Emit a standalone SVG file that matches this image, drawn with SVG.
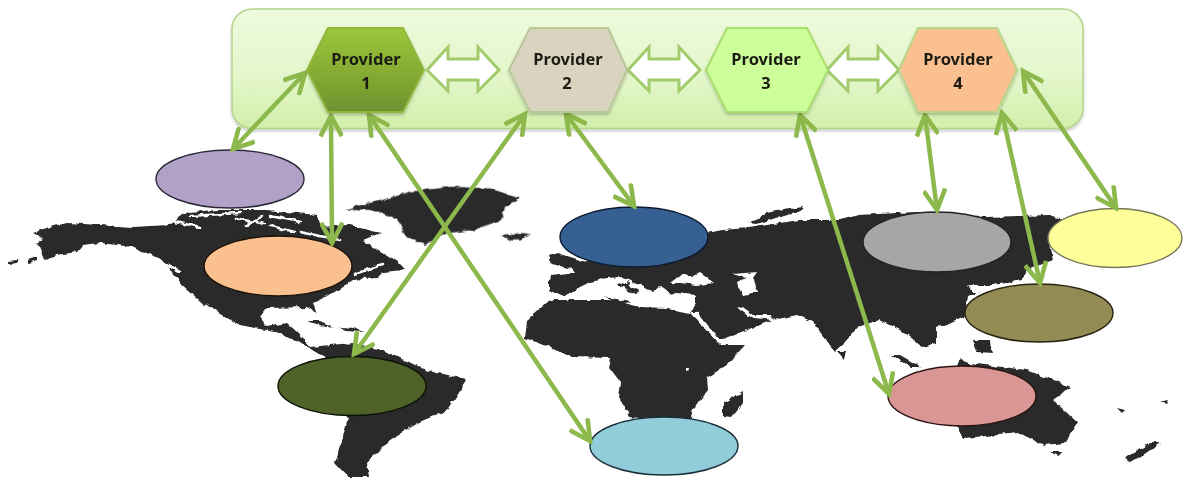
<svg xmlns="http://www.w3.org/2000/svg" xmlns:xlink="http://www.w3.org/1999/xlink" width="1183" height="481" viewBox="0 0 1183 481">
<style>
.land{fill:#2b292a}
.gap{fill:#fff}
.gapline{fill:none;stroke:#fff;stroke-width:2.6;stroke-linecap:round}
.oval{stroke-width:1.4}
.link{fill:none;stroke:#8cb84c;stroke-width:4.500;marker-start:url(#vee);marker-end:url(#vee)}
.peer{fill:#fff;stroke:#a2cb6b;stroke-width:3;stroke-linejoin:miter}
.hex{stroke-width:2;stroke-linejoin:round}
.lbl{font-family:"Noto Sans","Open Sans",sans-serif;font-weight:700;font-size:16.500px;fill:#1c1c14;text-anchor:middle}
</style>
<defs>
<marker id="vee" viewBox="-17 -9 20 18" refX="0" refY="0" markerUnits="userSpaceOnUse" markerWidth="27" markerHeight="24.300" orient="auto-start-reverse">
<path d="M-15 -8 L0 0 L-15 8" fill="none" stroke="#8cb84c" stroke-width="3.400"/>
</marker>
<linearGradient id="panelFill" x1="0" y1="0" x2="0" y2="1">
<stop offset="0" stop-color="#eefadd"/><stop offset=".55" stop-color="#e4f7cc"/><stop offset="1" stop-color="#d3eeaa"/>
</linearGradient>
<linearGradient id="p1Fill" x1="0" y1="0" x2="0" y2="1">
<stop offset="0" stop-color="#9cc63c"/><stop offset=".7" stop-color="#7da32f"/><stop offset="1" stop-color="#6d9132"/>
</linearGradient>
<filter id="rough" filterUnits="userSpaceOnUse" x="0" y="160" width="1183" height="321">
<feTurbulence type="fractalNoise" baseFrequency=".13" numOctaves="2" seed="4" result="n"/>
<feDisplacementMap in="SourceGraphic" in2="n" scale="5" xChannelSelector="R" yChannelSelector="G"/>
<feGaussianBlur stdDeviation=".55"/>
</filter>
<filter id="shade" x="-10%" y="-20%" width="120%" height="140%"><feDropShadow dx="0" dy="2" stdDeviation="1.5" flood-color="#000" flood-opacity=".22"/></filter>
<polygon id="peerArrow" class="peer" points="427,70 448,47 448,59 478,59 478,47 499,70 478,91 478,80 448,80 448,91"/>
</defs>

<g id="map" filter="url(#rough)">
<polygon class="land" points="33,233 50,227 67,223 100,225 133,227 170,225 187,212 217,210 267,210 317,215 320,227 350,225 380,233 363,240 377,250 397,262 405,270 383,272 377,278 353,280 333,293 313,303 317,313 307,307 267,308 260,317 267,327 287,323 297,332 310,347 330,345 353,343 383,350 417,367 467,380 448,410 417,423 390,440 367,463 369,477 348,477 335,463 344,433 348,417 320,385 325,357 306,347 300,343 280,333 240,325 207,307 180,283 173,273 163,260 133,247 100,243 83,245 77,252 43,257 37,243 43,238"/>
<polygon class="land" points="8,261 17,260 17,263 8,264"/>
<polygon class="land" points="28,260 37,257 37,260 28,263"/>
<polygon class="land" points="43,257 63,250 63,253 45,259"/>
<polygon class="land" points="307,321 320,321 334,327 320,325"/>
<polygon class="land" points="340,327 355,328 363,332 345,331"/>
<path class="gapline" d="M175 222 L200 227 M190 216 L240 213 M235 218 L265 224 M245 226 L262 216 M270 216 L300 222 M270 226 L295 232 M300 232 L340 240 M150 257 L180 271 M206 305 L224 319 M355 274 L372 268 L383 265 M345 287 L365 278"/>
<g transform="translate(0 170) scale(.3827 .3333)">
<polygon class="land" points="900,118 960,100 1000,90 1070,65 1180,50 1280,55 1360,85 1320,110 1310,150 1240,180 1160,190 1110,225 1060,200 1040,150 990,125"/>
<polygon class="land" points="1310,195 1345,190 1385,195 1360,208 1330,208"/>
</g>
<polygon class="land" points="548,282 552,275 575,272 570,265 600,260 640,237 706,233 723,230 748,228 799,220 816,220 841,220 858,215 917,212 985,217 1049,215 1065,220 1049,237 1053,260 1027,270 1023,280 993,285 968,285 981,292 968,297 964,317 947,325 936,327 936,343 922,347 900,330 879,320 858,327 845,343 835,352 813,322 797,315 773,320 720,340 690,312 697,303 620,303 600,296 563,296 548,290"/>
<polygon class="land" points="549,256 558,253 586,262 576,270 552,264"/>
<polygon class="land" points="748,223 770,212 803,207 800,212 776,218 757,224"/>
<polygon class="land" points="838,351 846,351 844,358"/>
<path class="gap" d="M563 297 L578 288 L590 282 L607 278 L620 277 L640 285 L653 292 L660 287 L667 292 L695 295 L695 303 L667 305 L640 305 L613 298 L587 297Z"/>
<path class="gap" d="M670 283 L683 273 L692 277 L700 273 L715 283 L697 285 L680 283Z"/>
<path class="gap" d="M732 274 L757 272 L753 278 L758 292 L743 295 L737 283 L747 278Z"/>
<path class="gap" d="M737 307 L743 308 L753 315 L770 315 L775 320 L753 318 L743 313Z"/>
<path class="gap" d="M690 312 L697 312 L720 340 L743 345 L720 347Z"/>
<path class="gap" d="M968 286 L986 288 L976 295Z"/>
<polygon class="land" points="626,282 630,284 627,287"/>
<polygon class="land" points="620,282 640,291 636,293 618,285"/>
<polygon class="land" points="626,289 634,291 630,293"/>
<polygon class="land" points="527,320 550,300 613,300 640,307 667,308 690,313 720,345 745,345 727,365 707,377 708,390 693,410 689,423 630,417 619,397 621,383 609,367 611,358 571,357 550,347 525,338"/>
<polygon class="land" points="723,403 742,392 742,403 731,418 723,417"/>
<polygon class="gap" points="686,368 689,368 688,372 686,372"/>
<polygon class="land" points="960,433 945,400 960,358 968,363 1027,370 1070,387 1053,400 1078,423 1065,443 1044,445 1019,433 964,438"/>
<polygon class="land" points="892,355 900,355 921,367 911,367"/>
<polygon class="land" points="973,340 989,340 993,353 977,352"/>
<polygon class="land" points="1125,458 1150,443 1160,443 1146,453 1131,462"/>
<polygon class="land" points="1051,452 1063,452 1057,456"/>
<polygon class="land" points="1117,408 1125,410 1122,413"/>
<polygon class="land" points="1160,402 1167,400 1165,404"/>
</g>

<g id="panel">
<rect x="232" y="9" width="851" height="119.500" rx="20" fill="url(#panelFill)" stroke="#b3d58a" stroke-width="1.500" filter="url(#shade)"/>
</g>

<g id="sites">
<g id="site-purple"><ellipse class="oval" cx="230" cy="179" rx="74" ry="29" fill="#b2a1c7" stroke="#2c2a3a"/></g>
<g id="site-orange"><ellipse class="oval" cx="278" cy="266" rx="74" ry="30" fill="#fac08f" stroke="#1a1208"/></g>
<g id="site-darkgreen"><ellipse class="oval" cx="352" cy="386" rx="74" ry="29.500" fill="#4f6228" stroke="#0e1405"/></g>
<g id="site-blue"><ellipse class="oval" cx="634" cy="237" rx="74" ry="30" fill="#366092" stroke="#0c1a30"/></g>
<g id="site-sky"><ellipse class="oval" cx="664" cy="446" rx="74" ry="29" fill="#92cddc" stroke="#1a3038"/></g>
<g id="site-gray"><ellipse class="oval" cx="937" cy="242" rx="74" ry="30" fill="#a6a6a6" stroke="#222"/></g>
<g id="site-yellow"><ellipse class="oval" cx="1115" cy="238" rx="67" ry="29.500" fill="#ffff99" stroke="#77775a"/></g>
<g id="site-olive"><ellipse class="oval" cx="1039" cy="313" rx="74" ry="29" fill="#948a54" stroke="#26230f"/></g>
<g id="site-pink"><ellipse class="oval" cx="962" cy="396" rx="74" ry="30" fill="#d99694" stroke="#2a1414"/></g>
</g>

<g id="connectors">
<line class="link" x1="305" y1="73" x2="233" y2="149"/>
<line class="link" x1="331" y1="116" x2="332" y2="243"/>
<line class="link" x1="369" y1="115" x2="590" y2="441"/>
<line class="link" x1="525" y1="114" x2="354" y2="354"/>
<line class="link" x1="566" y1="114" x2="634" y2="206"/>
<line class="link" x1="800" y1="115" x2="889" y2="394"/>
<line class="link" x1="925" y1="115" x2="937" y2="210"/>
<line class="link" x1="1002" y1="113" x2="1040" y2="283"/>
<line class="link" x1="1023" y1="71" x2="1116" y2="208"/>
<use xlink:href="#peerArrow" href="#peerArrow"/>
<use xlink:href="#peerArrow" href="#peerArrow" transform="translate(201 0)"/>
<use xlink:href="#peerArrow" href="#peerArrow" transform="translate(400 0)"/>
</g>

<g id="provider-1">
<polygon class="hex" points="307,70 328,28 403,28 424,70 403,112 328,112" fill="url(#p1Fill)" stroke="#8fb83e" filter="url(#shade)"/>
<text class="lbl" x="366" y="65">Provider</text><text class="lbl" x="366" y="89">1</text>
</g>
<g id="provider-2">
<polygon class="hex" points="509,70 530,28 608,28 627,70 608,112 530,112" fill="#d9d3bf" stroke="#b8c898" filter="url(#shade)"/>
<text class="lbl" x="568" y="65">Provider</text><text class="lbl" x="567" y="89">2</text>
</g>
<g id="provider-3">
<polygon class="hex" points="706,70 727,28 807,28 828,70 807,112 727,112" fill="#ccff99" stroke="#a9df6e" filter="url(#shade)"/>
<text class="lbl" x="766" y="65">Provider</text><text class="lbl" x="766" y="89">3</text>
</g>
<g id="provider-4">
<polygon class="hex" points="899,70 918,28 997,28 1017,70 997,112 918,112" fill="#fac08f" stroke="#b9d58a" filter="url(#shade)"/>
<text class="lbl" x="958" y="65">Provider</text><text class="lbl" x="958" y="89">4</text>
</g>
</svg>
